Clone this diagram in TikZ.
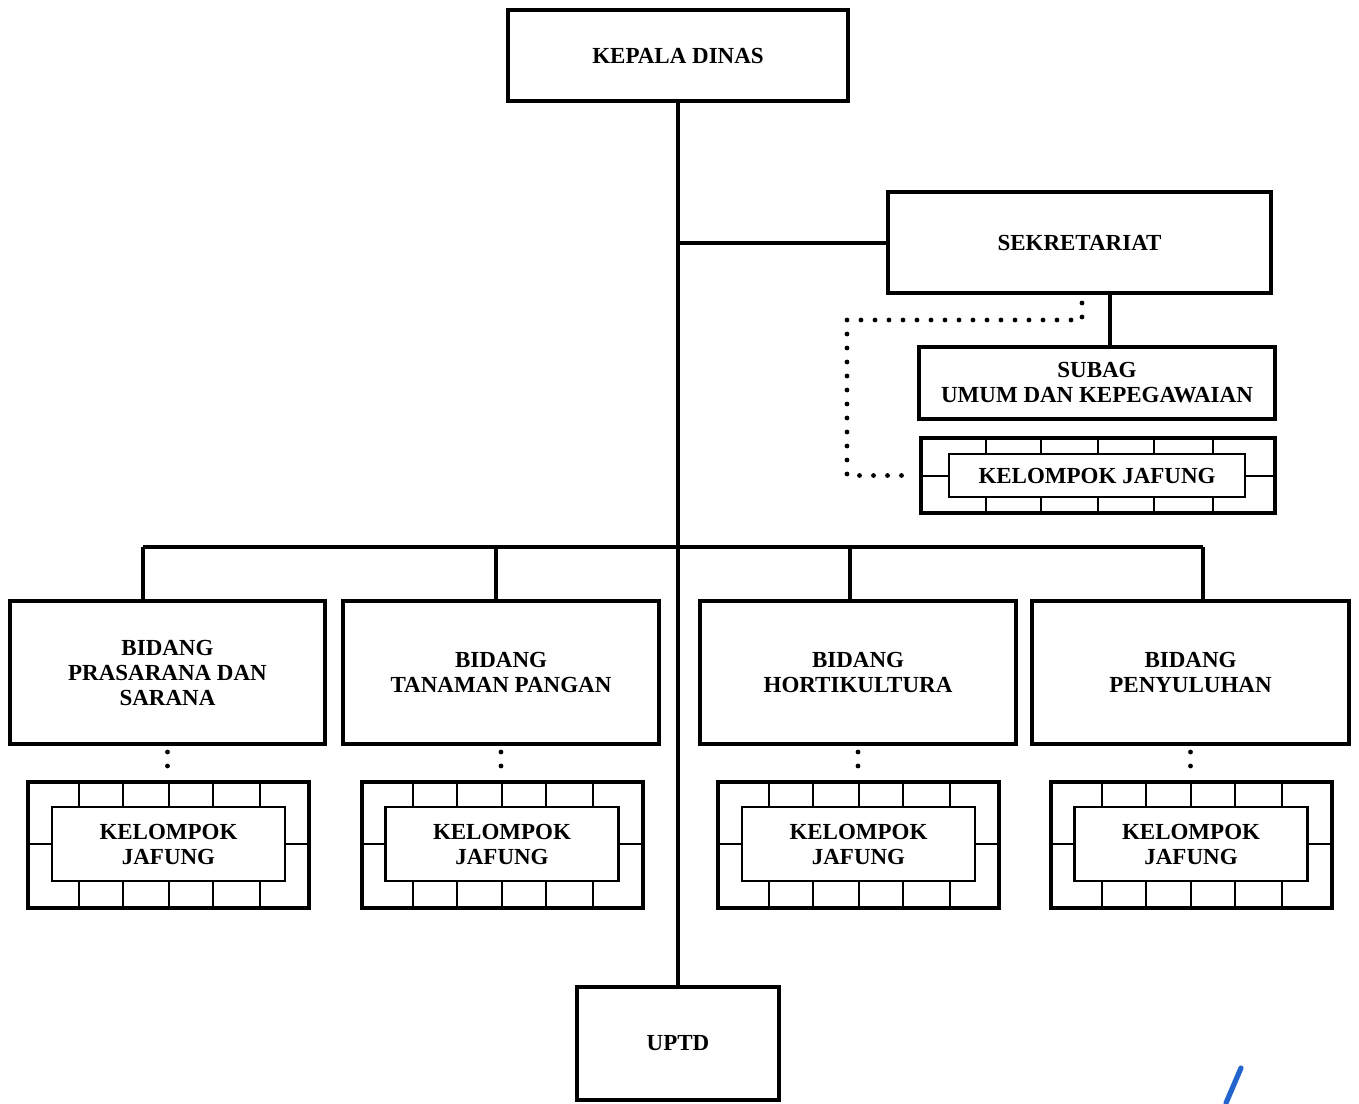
\documentclass[tikz,border=0pt]{standalone}
\usepackage{fontspec}
\setmainfont{Liberation Serif}
\usetikzlibrary{calc}
\definecolor{penblue}{RGB}{35,100,205}
\begin{document}
\begin{tikzpicture}[x=0.5pt,y=-0.5pt,
  lbl/.style={font=\fontsize{11.5}{12.5}\selectfont\bfseries},
  box/.style={draw, line width=2pt, align=center, inner sep=0pt, lbl},
  inbox/.style={draw, line width=1.1pt, align=center, inner sep=0pt, lbl},
  conn/.style={line width=2pt},
  dotline/.style={line width=2.4pt, line cap=round, dash pattern=on 0pt off 7pt},
  tick/.style={line width=1pt}]
\useasboundingbox[fill=white] (0,0) rectangle (1359,1103);

% top
\node[box, minimum width=170pt, minimum height=45.5pt] (kd) at (678,55.5) {KEPALA DINAS};
\node[box, minimum width=191.5pt, minimum height=50.5pt] (sek) at (1079.5,242.5) {SEKRETARIAT};
\node[box, minimum width=178pt, minimum height=36pt] (subag) at (1097,383) {SUBAG\\UMUM DAN KEPEGAWAIAN};
\node[box, minimum width=177pt, minimum height=37.5pt] (j5) at (1098,475.5) {};
\node[inbox, minimum width=148pt, minimum height=21.5pt] (j5-in) at (1097,475.5) {KELOMPOK JAFUNG};

% bidang
\node[box, minimum width=157.5pt, minimum height=71.5pt] (b1) at (167.5,672.5) {BIDANG\\PRASARANA DAN\\SARANA};
\node[box, minimum width=158pt, minimum height=71.5pt] (b2) at (501,672.5) {BIDANG\\TANAMAN PANGAN};
\node[box, minimum width=158pt, minimum height=71.5pt] (b3) at (858,672.5) {BIDANG\\HORTIKULTURA};
\node[box, minimum width=158.5pt, minimum height=71.5pt] (b4) at (1190.5,672.5) {BIDANG\\PENYULUHAN};

% kelompok jafung
\foreach \n/\cx in {j1/168.5, j2/502, j3/858.5, j4/1191}{
  \node[box, minimum width=140.5pt, minimum height=63pt] (\n) at (\cx,845) {};
  \node[inbox, minimum width=116.5pt, minimum height=37pt] (\n-in) at (\cx,844) {KELOMPOK\\JAFUNG};
}

% uptd
\node[box, minimum width=101pt, minimum height=56.5pt] (uptd) at (678,1043.5) {UPTD};

% brick ticks
\foreach \j in {j1,j2,j3,j4,j5}{
  \foreach \f in {0.186,0.342,0.5,0.655,0.82}{
    \coordinate (tt) at ($(\j.north west)!\f!(\j.north east)$);
    \coordinate (tb) at ($(\j.south west)!\f!(\j.south east)$);
    \draw[tick] (tt) -- (tt |- \j-in.north);
    \draw[tick] (tb) -- (tb |- \j-in.south);
  }
  \draw[tick] (\j.west |- \j-in.west) -- (\j-in.west);
  \draw[tick] (\j.east |- \j-in.east) -- (\j-in.east);
}

% connectors
\draw[conn] (kd.south) -- (uptd.north);
\draw[conn] (kd.south |- sek.west) -- (sek.west);
\coordinate (ss) at ([xshift=15.25pt]sek.south);
\draw[conn] (ss) -- (ss |- subag.north);
\coordinate (bus) at (678,547);
\coordinate (d1) at ([xshift=-12.25pt]b1.north);
\coordinate (d2) at ([xshift=-2.5pt]b2.north);
\coordinate (d3) at ([xshift=-4pt]b3.north);
\coordinate (d4) at ([xshift=6.25pt]b4.north);
\draw[conn] (d1 |- bus) -- (d4 |- bus);
\foreach \d in {d1,d2,d3,d4}{\draw[conn] (\d |- bus) -- (\d);}

% dotted links
\foreach \i in {1,2,3,4}{\draw[dotline] ([yshift=-3pt]b\i.south) -- (b\i.south |- j\i.north);}
\coordinate (ds) at ([xshift=1.25pt,yshift=-4pt]sek.south);
\coordinate (dk) at (847,320);
\draw[dotline] (ds) |- (dk) |- ([xshift=-3pt]j5.west);

% pen mark
\draw[line width=2.6pt, line cap=round, penblue] (1241,1068) -- (1226,1103);
\end{tikzpicture}
\end{document}
